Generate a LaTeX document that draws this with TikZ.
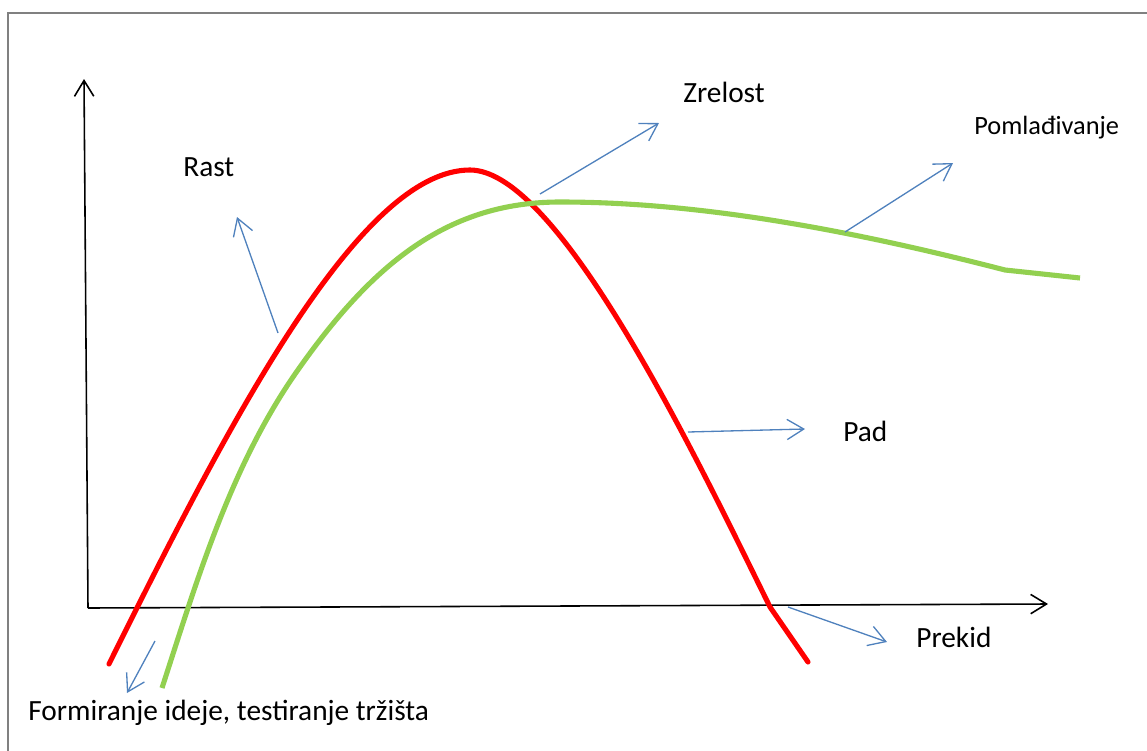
\documentclass[tikz,border=0pt]{standalone}
\usepackage{fontspec}
\setmainfont{Carlito}
\usetikzlibrary{arrows.meta}
\definecolor{crvena}{RGB}{255,0,0}
\definecolor{zelena}{RGB}{146,208,80}
\definecolor{plava}{RGB}{79,129,189}
\definecolor{siva}{RGB}{128,128,128}

\begin{document}
\begin{tikzpicture}[
    x=0.02cm, y=-0.02cm,
    oznaka/.style={anchor=base west, inner sep=0pt, font=\fontsize{16.7}{19}\selectfont},
    strelica/.style={draw=plava, line width=0.75pt, -{Straight Barb[length=9.5pt,width=11.5pt]}},
    os/.style={draw=black, line width=0.9pt, -{Straight Barb[length=9pt,width=11pt]}}
  ]
  % 画布大小(与原图像素一致)
  \useasboundingbox (0,0) rectangle (1147,751);

  % 外框(只看得到左边和上边)
  \draw[siva, line width=0.9pt] (8,751) -- (8,13) -- (1147,13);

  % 坐标轴
  \coordinate (O) at (88,608);
  \coordinate (ytip) at (84,79);
  \coordinate (xtip) at (1048,604);
  \draw[os] (O) -- (ytip);
  \draw[os] (O) -- (xtip);

  % 红色曲线(上升 -> 顶点 -> 下降)
  \draw[
      crvena,
      line width=2.9pt,
      line cap=round,
      line join=round
  ] (109,664) .. controls (230,420) and (360,170) .. (470,170)
              .. controls (560,170) and (700,465) .. (770,607)
              -- (808,662);

  % 绿色曲线
  \draw[
      zelena,
      line width=2.9pt
  ] (162,688) .. controls (198,577) and (232,462) .. (300,367)
              .. controls (375,261) and (450,202) .. (560,202)
              .. controls (700,202) and (850,230) .. (1005,270)
              -- (1080,278);

  % 标签
  \node[oznaka] (rast)    at (183,176) {Rast};
  \node[oznaka] (zrelost) at (683,102) {Zrelost};
  \node[oznaka, font=\fontsize{15}{18}\selectfont] (poml) at (974,134) {Pomlađivanje};
  \node[oznaka] (pad)     at (843,441) {Pad};
  \node[oznaka] (prekid)  at (916,647) {Prekid};
  \node[oznaka] (form)    at (28,720)  {Formiranje ideje, testiranje tržišta};

  % 蓝色箭头的端点
  \coordinate (rastA) at (278,333);  \coordinate (rastB) at (237,217);
  \coordinate (zrelA) at (540,194);  \coordinate (zrelB) at (659,123);
  \coordinate (pomlA) at (845,232);  \coordinate (pomlB) at (953,163);
  \coordinate (padA)  at (688,432);  \coordinate (padB)  at (805,429);
  \coordinate (prekA) at (788,607);  \coordinate (prekB) at (887,642);
  \coordinate (formA) at (155,641);  \coordinate (formB) at (127,693);

  % 蓝色箭头
  \foreach \a/\b in {rastA/rastB, zrelA/zrelB, pomlA/pomlB, padA/padB, prekA/prekB, formA/formB}
    \draw[strelica] (\a) -- (\b);
\end{tikzpicture}
\end{document}
